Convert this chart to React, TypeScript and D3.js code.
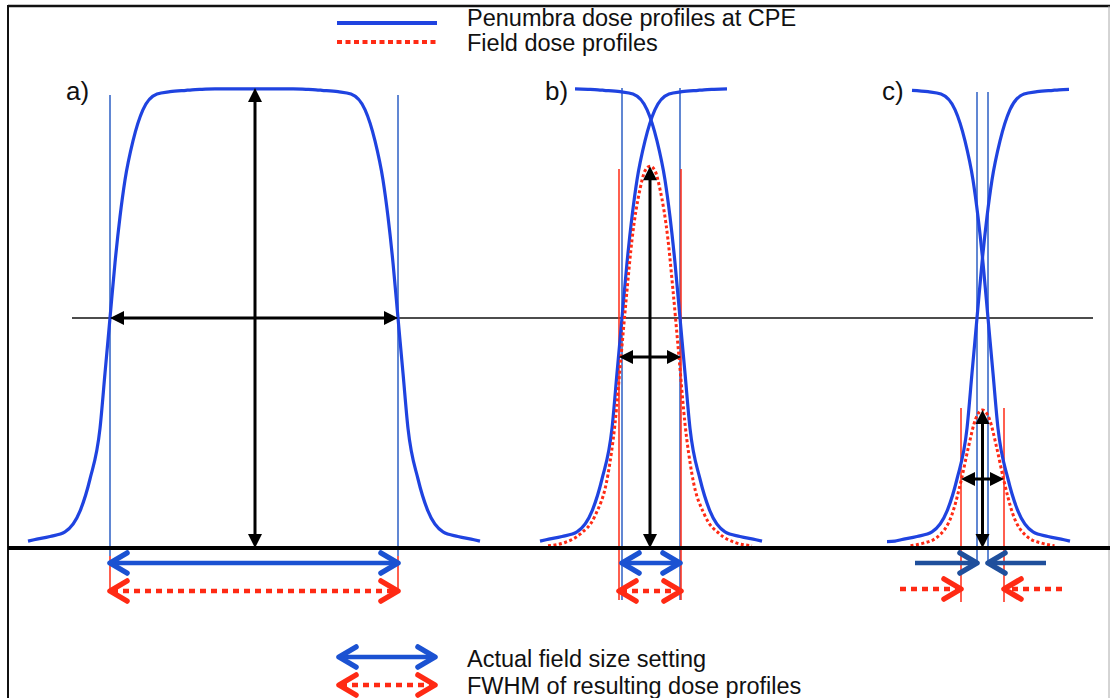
import React from "react";
import * as d3 from "d3";

// ---------- data ----------
// Penumbra (rising edge) profile: offset from the 50 % point, relative dose (%)
const EDGE_OFFSET = [-90, -82, -76, -60, -45, -30, -20, -10, -5, 0, 5, 10, 15, 23, 33, 47, 60, 76, 82, 92, 105];
const EDGE_DOSE = [1.4, 1.5, 1.8, 2.5, 3.5, 8, 15, 26, 38, 50, 62, 72, 80, 88.5, 95.3, 98.7, 99.2, 99.5, 99.6, 99.7, 99.8];

// Field dose profile half-shapes (left half, offset from centre, dose %)
const FIELD_B_OFFSET = [-102, -85, -70, -55, -42, -35, -29, -23, -18, -10, -5, 0];
const FIELD_B_DOSE = [0.5, 1.2, 3, 7, 16, 27, 41.5, 56, 67, 78, 82, 83];
const FIELD_C_OFFSET = [-72, -60, -45, -30, -21, -14, -7, 0];
const FIELD_C_DOSE = [0.5, 1, 2.4, 7.6, 15, 22, 28, 30];

// Panels: labels, edge positions (50 % points), edge extents
const PANEL_LABELS = ["a)", "b)", "c)"];
const PANEL_LABEL_X = [66, 545, 882];
const RISE_EDGE = [110, 622, 977];
const FALL_EDGE = [398, 680, 988];
const RISE_RANGE: [number, number][] = [[-82, 105], [-82, 105], [-90, 92]];
const FALL_RANGE: [number, number][] = [[-82, 105], [-82, 105], [-82, 76]];
const FIELD_CENTER = [null, 650, 982.5];
const FIELD_PEAK = [100, 83, 30];
const FWHM_EDGES: [number, number][] = [[110, 398], [619, 681], [961, 1004]];

const LEGEND_TOP = ["Penumbra dose profiles at CPE", "Field dose profiles"];
const LEGEND_BOTTOM = ["Actual field size setting", "FWHM of resulting dose profiles"];

// ---------- styles ----------
const BLUE = "#1f43e0";
const BLUE_THIN = "#2c5fc4";
const BLUE_ARROW = "#1b52d2";
const BLUE_DARK = "#1f4f9c";
const RED = "#ff2a14";
const FONT = "'Liberation Sans', Arial, sans-serif";

const W = 1110;
const H = 698;

const x = d3.scaleLinear().domain([0, W]).range([0, W]);
const y = d3.scaleLinear().domain([0, 100]).range([548, 88]);

const line = d3
  .line<[number, number]>()
  .x((d) => x(d[0]))
  .y((d) => y(d[1]))
  .curve(d3.curveMonotoneX);

function risePoints(edge: number, range: [number, number]): [number, number][] {
  const pts: [number, number][] = [];
  EDGE_OFFSET.forEach((o, i) => {
    if (o >= range[0] && o <= range[1]) pts.push([edge + o, EDGE_DOSE[i]]);
  });
  return pts;
}
function fallPoints(edge: number, range: [number, number]): [number, number][] {
  const pts: [number, number][] = [];
  EDGE_OFFSET.forEach((o, i) => {
    if (o >= range[0] && o <= range[1]) pts.push([edge - o, EDGE_DOSE[i]]);
  });
  return pts.sort((a, b) => a[0] - b[0]);
}
function fieldPoints(center: number, offs: number[], doses: number[]): [number, number][] {
  const left: [number, number][] = offs.map((o, i) => [center + o, doses[i]]);
  const right: [number, number][] = offs
    .slice(0, -1)
    .map((o, i) => [center - o, doses[i]] as [number, number])
    .reverse();
  return [...left, ...right];
}

function BlackArrowHead({ tx, ty, dir }: { tx: number; ty: number; dir: "up" | "down" | "left" | "right" }) {
  const L = 14;
  const Wd = 7;
  let pts = "";
  if (dir === "up") pts = `${tx},${ty} ${tx - Wd},${ty + L} ${tx + Wd},${ty + L}`;
  if (dir === "down") pts = `${tx},${ty} ${tx - Wd},${ty - L} ${tx + Wd},${ty - L}`;
  if (dir === "left") pts = `${tx},${ty} ${tx + L},${ty - Wd} ${tx + L},${ty + Wd}`;
  if (dir === "right") pts = `${tx},${ty} ${tx - L},${ty - Wd} ${tx - L},${ty + Wd}`;
  return <polygon points={pts} fill="#000" />;
}

function BlackDoubleV({ xx, y1, y2 }: { xx: number; y1: number; y2: number }) {
  return (
    <g>
      <line x1={xx} x2={xx} y1={y1 + 8} y2={y2 - 8} stroke="#000" strokeWidth={3} />
      <BlackArrowHead tx={xx} ty={y1} dir="up" />
      <BlackArrowHead tx={xx} ty={y2} dir="down" />
    </g>
  );
}
function BlackDoubleH({ yy, x1, x2 }: { yy: number; x1: number; x2: number }) {
  return (
    <g>
      <line x1={x1 + 8} x2={x2 - 8} y1={yy} y2={yy} stroke="#000" strokeWidth={3} />
      <BlackArrowHead tx={x1} ty={yy} dir="left" />
      <BlackArrowHead tx={x2} ty={yy} dir="right" />
    </g>
  );
}

function Chevron({ tx, ty, dir, color }: { tx: number; ty: number; dir: 1 | -1; color: string }) {
  const back = 17;
  const half = 10;
  return (
    <path
      d={`M${tx - dir * back},${ty - half} L${tx},${ty} L${tx - dir * back},${ty + half}`}
      fill="none"
      stroke={color}
      strokeWidth={5.5}
      strokeLinecap="round"
      strokeLinejoin="round"
    />
  );
}

function ColorDouble({ x1, x2, yy, color, dotted }: { x1: number; x2: number; yy: number; color: string; dotted?: boolean }) {
  return (
    <g>
      <line
        x1={x1 + 2}
        x2={x2 - 2}
        y1={yy}
        y2={yy}
        stroke={color}
        strokeWidth={dotted ? 4.5 : 4.5}
        strokeDasharray={dotted ? "6,5" : undefined}
      />
      <Chevron tx={x1} ty={yy} dir={-1} color={color} />
      <Chevron tx={x2} ty={yy} dir={1} color={color} />
    </g>
  );
}

function ColorSingle({ from, to, yy, color, dotted }: { from: number; to: number; yy: number; color: string; dotted?: boolean }) {
  const dir: 1 | -1 = to > from ? 1 : -1;
  return (
    <g>
      <line
        x1={from}
        x2={to - dir * 2}
        y1={yy}
        y2={yy}
        stroke={color}
        strokeWidth={dotted ? 4.5 : 4.5}
        strokeDasharray={dotted ? "6,5" : undefined}
      />
      <Chevron tx={to} ty={yy} dir={dir} color={color} />
    </g>
  );
}

export default function App() {
  const halfY = y(50);
  const baseY = y(0);

  // Panel a: one flat-top profile
  const profileA = [...risePoints(RISE_EDGE[0], RISE_RANGE[0]), ...fallPoints(FALL_EDGE[0], FALL_RANGE[0])];

  return (
    <svg
      width={W}
      height={H}
      style={{ position: "absolute", left: 0, top: 0, background: "#fff" }}
      fontFamily={FONT}
    >
      <rect x={0} y={0} width={W} height={H} fill="#fff" />
      {/* frame */}
      <line x1={8} x2={W} y1={6} y2={6} stroke="#111" strokeWidth={2.5} />
      <line x1={8} x2={8} y1={5} y2={H} stroke="#111" strokeWidth={2} />
      <line x1={1109} x2={1109} y1={6} y2={H} stroke="#aaa" strokeWidth={1} />

      {/* top legend */}
      <line x1={337} x2={437} y1={23} y2={23} stroke={BLUE} strokeWidth={4} />
      <line x1={337} x2={437} y1={42} y2={42} stroke={RED} strokeWidth={4} strokeDasharray="5,3.5" />
      <text x={467} y={26} fontSize={23.5} fill="#111">{LEGEND_TOP[0]}</text>
      <text x={467} y={51} fontSize={23.5} fill="#111">{LEGEND_TOP[1]}</text>

      {/* half maximum line */}
      <line x1={72} x2={1093} y1={halfY} y2={halfY} stroke="#111" strokeWidth={1.3} />

      {/* panel labels */}
      {PANEL_LABELS.map((t, i) => (
        <text key={t} x={PANEL_LABEL_X[i]} y={100} fontSize={26} fill="#111">
          {t}
        </text>
      ))}

      {/* panel a */}
      <line x1={x(RISE_EDGE[0])} x2={x(RISE_EDGE[0])} y1={95} y2={556} stroke={BLUE_THIN} strokeWidth={1.5} />
      <line x1={x(FALL_EDGE[0])} x2={x(FALL_EDGE[0])} y1={95} y2={556} stroke={BLUE_THIN} strokeWidth={1.5} />
      <line x1={x(RISE_EDGE[0])} x2={x(RISE_EDGE[0])} y1={556} y2={592} stroke={RED} strokeWidth={1.5} />
      <line x1={x(FALL_EDGE[0])} x2={x(FALL_EDGE[0])} y1={556} y2={592} stroke={RED} strokeWidth={1.5} />
      <path d={line(profileA) || ""} fill="none" stroke={BLUE} strokeWidth={3.2} />
      <BlackDoubleV xx={255} y1={y(FIELD_PEAK[0])} y2={baseY} />
      <BlackDoubleH yy={halfY} x1={x(FWHM_EDGES[0][0])} x2={x(FWHM_EDGES[0][1])} />

      {/* panel b */}
      <line x1={x(RISE_EDGE[1])} x2={x(RISE_EDGE[1])} y1={88} y2={600} stroke={BLUE_THIN} strokeWidth={1.5} />
      <line x1={x(FALL_EDGE[1])} x2={x(FALL_EDGE[1])} y1={88} y2={600} stroke={BLUE_THIN} strokeWidth={1.5} />
      <line x1={x(FWHM_EDGES[1][0])} x2={x(FWHM_EDGES[1][0])} y1={169} y2={600} stroke={RED} strokeWidth={1.5} />
      <line x1={x(FWHM_EDGES[1][1])} x2={x(FWHM_EDGES[1][1])} y1={169} y2={600} stroke={RED} strokeWidth={1.5} />
      <path d={line(risePoints(RISE_EDGE[1], RISE_RANGE[1])) || ""} fill="none" stroke={BLUE} strokeWidth={3.2} />
      <path d={line(fallPoints(FALL_EDGE[1], FALL_RANGE[1])) || ""} fill="none" stroke={BLUE} strokeWidth={3.2} />
      <path
        d={line(fieldPoints(FIELD_CENTER[1] as number, FIELD_B_OFFSET, FIELD_B_DOSE)) || ""}
        fill="none"
        stroke={RED}
        strokeWidth={3}
        strokeDasharray="3,2.5"
      />
      <BlackDoubleV xx={x(FIELD_CENTER[1] as number)} y1={y(FIELD_PEAK[1])} y2={baseY} />
      <BlackDoubleH yy={y(FIELD_PEAK[1] / 2)} x1={x(FWHM_EDGES[1][0])} x2={x(FWHM_EDGES[1][1])} />

      {/* panel c */}
      <line x1={x(RISE_EDGE[2])} x2={x(RISE_EDGE[2])} y1={92} y2={562} stroke={BLUE_THIN} strokeWidth={1.5} />
      <line x1={x(FALL_EDGE[2])} x2={x(FALL_EDGE[2])} y1={92} y2={562} stroke={BLUE_THIN} strokeWidth={1.5} />
      <line x1={x(FWHM_EDGES[2][0])} x2={x(FWHM_EDGES[2][0])} y1={408} y2={602} stroke={RED} strokeWidth={1.5} />
      <line x1={x(FWHM_EDGES[2][1])} x2={x(FWHM_EDGES[2][1])} y1={408} y2={602} stroke={RED} strokeWidth={1.5} />
      <path d={line(risePoints(RISE_EDGE[2], RISE_RANGE[2])) || ""} fill="none" stroke={BLUE} strokeWidth={3.2} />
      <path d={line(fallPoints(FALL_EDGE[2], FALL_RANGE[2])) || ""} fill="none" stroke={BLUE} strokeWidth={3.2} />
      <path
        d={line(fieldPoints(FIELD_CENTER[2] as number, FIELD_C_OFFSET, FIELD_C_DOSE)) || ""}
        fill="none"
        stroke={RED}
        strokeWidth={3}
        strokeDasharray="3,2.5"
      />
      <BlackDoubleV xx={x(FIELD_CENTER[2] as number)} y1={y(FIELD_PEAK[2])} y2={baseY} />
      <BlackDoubleH yy={y(FIELD_PEAK[2] / 2)} x1={x(FWHM_EDGES[2][0])} x2={x(FWHM_EDGES[2][1])} />

      {/* baseline */}
      <line x1={8} x2={W} y1={baseY} y2={baseY} stroke="#000" strokeWidth={4} />

      {/* field-size arrows */}
      <ColorDouble x1={x(RISE_EDGE[0])} x2={x(FALL_EDGE[0])} yy={563} color={BLUE_ARROW} />
      <ColorDouble x1={x(FWHM_EDGES[0][0])} x2={x(FWHM_EDGES[0][1])} yy={591} color={RED} dotted />
      <ColorDouble x1={x(RISE_EDGE[1])} x2={x(FALL_EDGE[1])} yy={563} color={BLUE_ARROW} />
      <ColorDouble x1={x(FWHM_EDGES[1][0])} x2={x(FWHM_EDGES[1][1])} yy={591} color={RED} dotted />
      <ColorSingle from={915} to={x(RISE_EDGE[2])} yy={563} color={BLUE_DARK} />
      <ColorSingle from={1046} to={x(FALL_EDGE[2])} yy={563} color={BLUE_DARK} />
      <ColorSingle from={900} to={x(FWHM_EDGES[2][0])} yy={589} color={RED} dotted />
      <ColorSingle from={1062} to={x(FWHM_EDGES[2][1])} yy={589} color={RED} dotted />

      {/* bottom legend */}
      <ColorDouble x1={339} x2={435} yy={657} color={BLUE_ARROW} />
      <ColorDouble x1={339} x2={435} yy={685} color={RED} dotted />
      <text x={467} y={667} fontSize={23.5} fill="#111">{LEGEND_BOTTOM[0]}</text>
      <text x={467} y={694} fontSize={23.5} fill="#111">{LEGEND_BOTTOM[1]}</text>
    </svg>
  );
}
